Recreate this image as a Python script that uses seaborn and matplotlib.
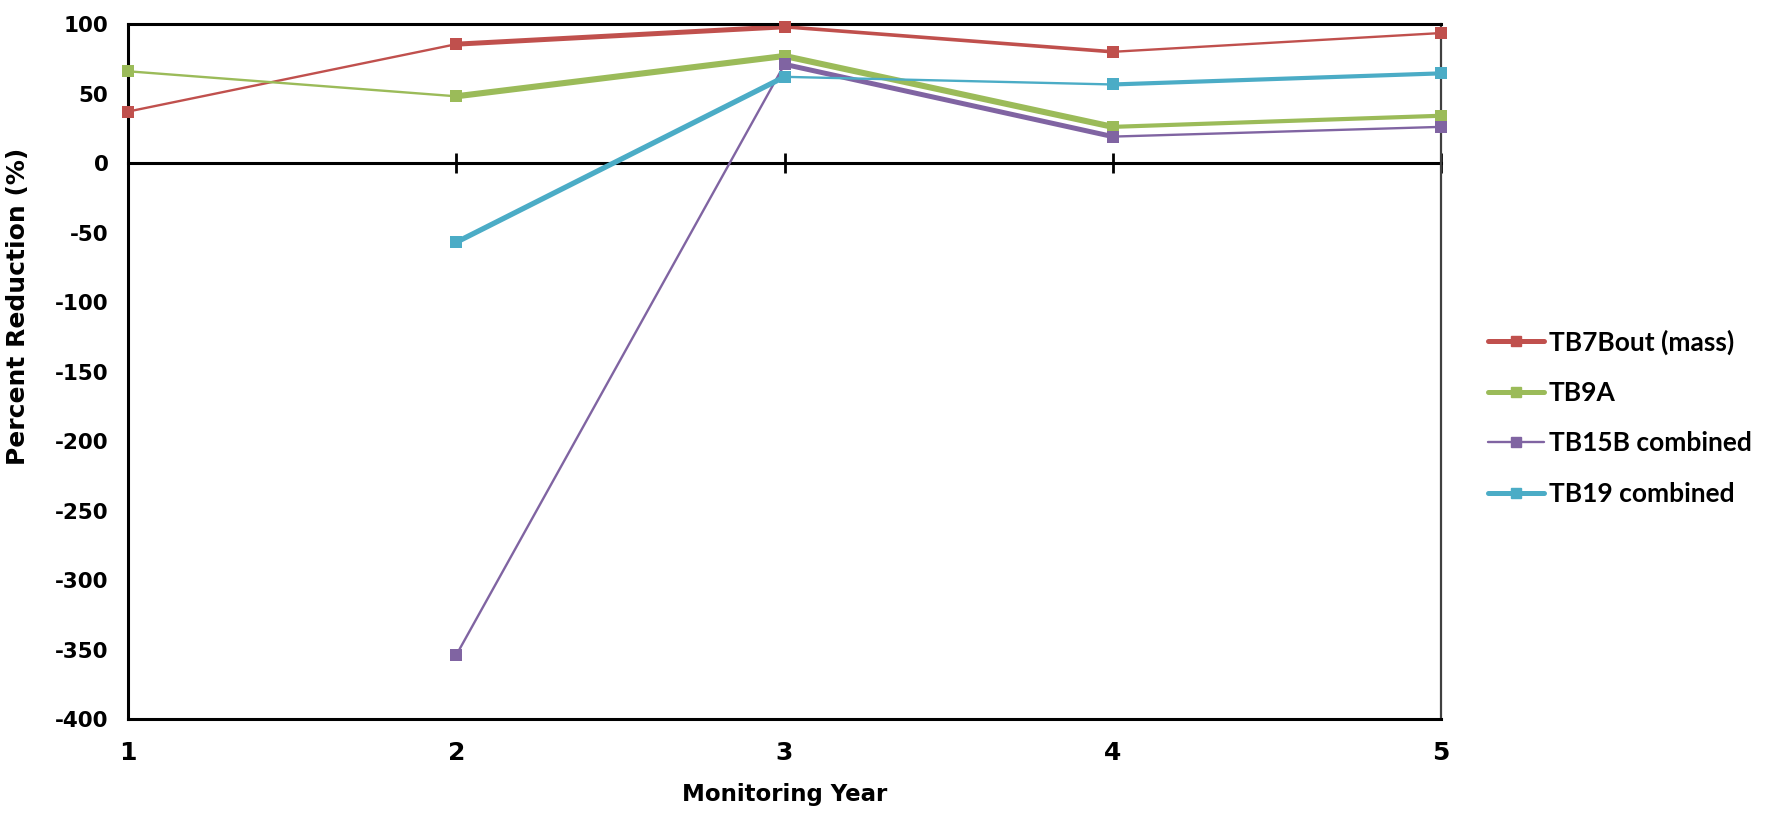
import numpy as np
import pandas as pd
import seaborn as sns
import matplotlib.pyplot as plt
from matplotlib.lines import Line2D

# ---- data ----
years = [1, 2, 3, 4, 5]
series_names = ["TB7Bout (mass)", "TB9A", "TB15B combined", "TB19 combined"]
tb7bout = [37, 85.5, 98, 80, 93.5]
tb9a = [66, 48, 77, 26, 34]
tb15b = [np.nan, -354, 71, 19, 26]
tb19 = [np.nan, -57, 62, 56.5, 64.5]
yticks = list(range(-400, 101, 50))

values = [tb7bout, tb9a, tb15b, tb19]
colors = ["#C0504D", "#9BBB59", "#8064A2", "#4BACC6"]
# per-segment line widths (style)
seg_widths = [
    [1.7, 3.6, 2.6, 1.7],
    [1.7, 4.4, 4.4, 3.0],
    [0, 1.7, 3.6, 1.7],
    [0, 3.8, 1.7, 3.0],
]
legend_widths = [3.6, 3.6, 1.7, 3.6]

df = pd.DataFrame(
    [(y, n, v) for n, vals in zip(series_names, values) for y, v in zip(years, vals)],
    columns=["year", "series", "value"],
)

sns.set_style("white")
plt.rcParams["font.family"] = ["DejaVu Sans"]
for k in ["text.color", "axes.labelcolor", "xtick.color", "ytick.color"]:
    plt.rcParams[k] = "black"

fig = plt.figure(figsize=(17.73, 8.14), dpi=100)
ax = fig.add_axes([0.0722, 0.1167, 0.7406, 0.8538])

for name, color, widths in zip(series_names, colors, seg_widths):
    sub = df[df.series == name].dropna()
    for i in range(len(years) - 1):
        seg = sub[sub.year.isin([years[i], years[i + 1]])]
        if len(seg) == 2 and widths[i] > 0:
            sns.lineplot(data=seg, x="year", y="value", color=color, lw=widths[i],
                         ax=ax, solid_capstyle="round", legend=False)
    sns.scatterplot(data=sub, x="year", y="value", color=color, marker="s", s=70,
                    linewidth=0, ax=ax, zorder=4, clip_on=False, legend=False)

ax.set_xlim(1, 5)
ax.set_ylim(-400, 100)
ax.set_xticks(years)
ax.set_xticklabels([str(y) for y in years], fontsize=18, fontweight="bold")
ax.tick_params(axis="x", length=0, pad=16)
ax.set_yticks(yticks)
ax.set_yticklabels([str(t) for t in yticks], fontsize=15.5, fontweight="bold")
ax.tick_params(axis="y", direction="inout", length=12, width=2, pad=8, color="black")

for s in ["left", "bottom", "top"]:
    ax.spines[s].set_color("black")
    ax.spines[s].set_linewidth(2.2)
ax.spines["right"].set_color("#404040")
ax.spines["right"].set_linewidth(1.6)

# zero line with ticks
sec = ax.secondary_xaxis(0, transform=ax.transData)
sec.set_xticks(years)
sec.set_xticklabels([])
sec.tick_params(direction="inout", length=14, width=2, color="black")
for sp in sec.spines.values():
    sp.set_linewidth(2.2)
    sp.set_color("black")

ax.set_xlabel("Monitoring Year", fontsize=16.5, fontweight="bold")
ax.xaxis.set_label_coords(0.5, -0.109)
ax.xaxis.label.set_va("center")
ax.set_ylabel("Percent Reduction (%)", fontsize=18, fontweight="bold")
ax.yaxis.set_label_coords(-0.084, 0.594)
ax.yaxis.label.set_va("center")

handles = [Line2D([0], [0], color=c, lw=w, marker="s", markersize=7, solid_capstyle="round")
           for c, w in zip(colors, legend_widths)]
fig.legend(handles, series_names, loc="center left", bbox_to_anchor=(0.832, 0.487),
           frameon=False, borderpad=0, handlelength=2.1, handletextpad=0.2,
           labelspacing=1.0, prop={"size": 19, "weight": "bold", "family": ["Lato", "DejaVu Sans"]})

fig.savefig("out.png", dpi=100)
